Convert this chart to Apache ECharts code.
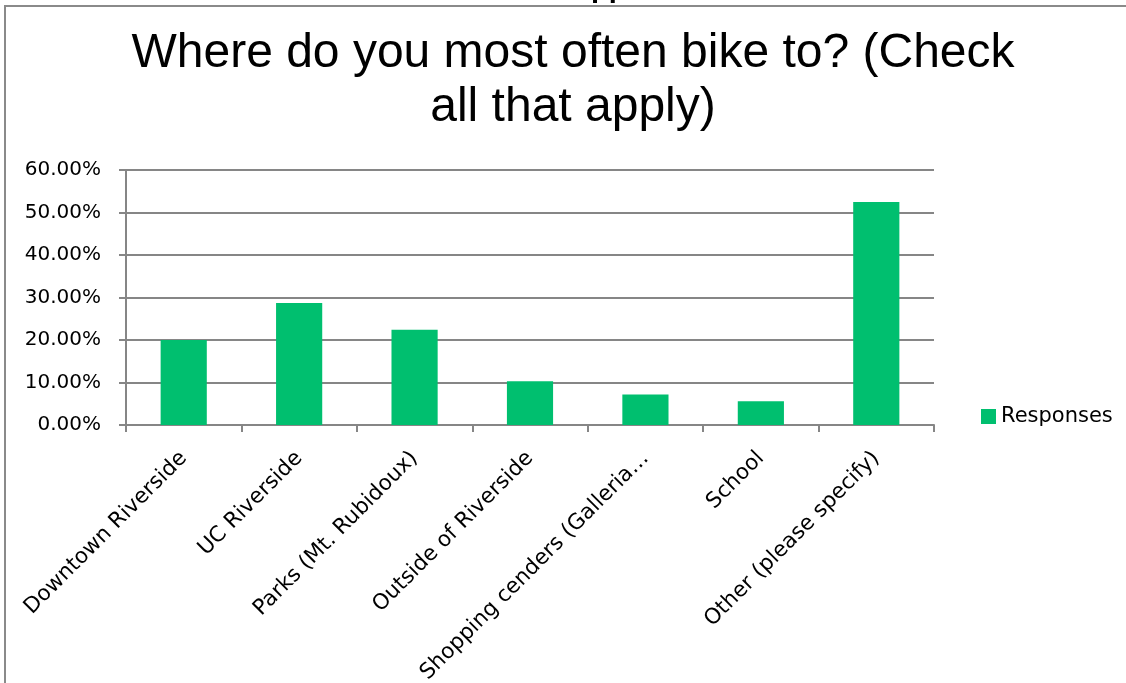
<!DOCTYPE html>
<html><head><meta charset="utf-8">
<script src="https://cdn.jsdelivr.net/npm/echarts@6/dist/echarts.min.js"></script>
<style>html,body{margin:0;padding:0;background:#fff}#c{width:1126px;height:683px}</style>
</head><body><div id="c"></div>
<script>
const categories = ["Downtown Riverside","UC Riverside","Parks (Mt. Rubidoux)","Outside of Riverside","Shopping cenders (Galleria…","School","Other (please specify)"];
const responses = [20.0, 28.7, 22.4, 10.3, 7.2, 5.6, 52.5];
const yTicks = [0, 10, 20, 30, 40, 50, 60];
const seriesName = "Responses";
const titleText = "Where do you most often bike to? (Check\nall that apply)";

const chart = echarts.init(document.getElementById('c'));
const font = '"DejaVu Sans", sans-serif';
chart.setOption({
  animation: false,
  graphic: [
    {type:'text', left: 591, top: -26, style:{text:'pp', fontFamily:'"Liberation Sans", Arial, sans-serif', fontWeight:'bold', fontSize:29, fill:'#000'}, z:-2},
    {type:'rect', shape:{x:5, y:6, width:1140, height:700}, style:{fill:'#fff', stroke:'#8a8a8a', lineWidth:2}, z:-1}
  ],
  title: {
    text: titleText, left: 568, top: 22, textAlign: 'center',
    textStyle: {fontFamily: '"Liberation Sans", Arial, sans-serif', fontSize: 48, fontWeight: 'normal', color: '#000', lineHeight: 54}
  },
  legend: {
    data: [seriesName], left: 976, top: 401, itemWidth: 15, itemHeight: 15, icon: 'rect',
    textStyle: {fontFamily: font, fontSize: 21, color: '#000'}, itemGap: 5
  },
  grid: {left: 126, right: 1126 - 934, top: 170, bottom: 683 - 425, containLabel: false, outerBoundsMode: 'none'},
  xAxis: {
    type: 'category', data: categories, boundaryGap: true,
    axisLine: {lineStyle: {color: '#868686', width: 2}},
    axisTick: {show: true, length: 7, lineStyle: {color: '#868686', width: 2}},
    axisLabel: {rotate: 45, interval: 0, fontFamily: font, fontSize: 21.5, color: '#000', margin: 30}
  },
  yAxis: {
    type: 'value', min: yTicks[0], max: yTicks[yTicks.length-1], interval: 10,
    axisLine: {show: true, lineStyle: {color: '#868686', width: 2}},
    axisTick: {show: true, length: 7, lineStyle: {color: '#868686', width: 2}},
    splitLine: {lineStyle: {color: '#868686', width: 2}},
    axisLabel: {formatter: v => v.toFixed(2) + '%', fontFamily: font, fontSize: 20, color: '#000', margin: 25}
  },
  series: [{
    name: seriesName, type: 'bar', data: responses, barWidth: '40%',
    itemStyle: {color: '#00BF6F'}
  }]
});
</script></body></html>
